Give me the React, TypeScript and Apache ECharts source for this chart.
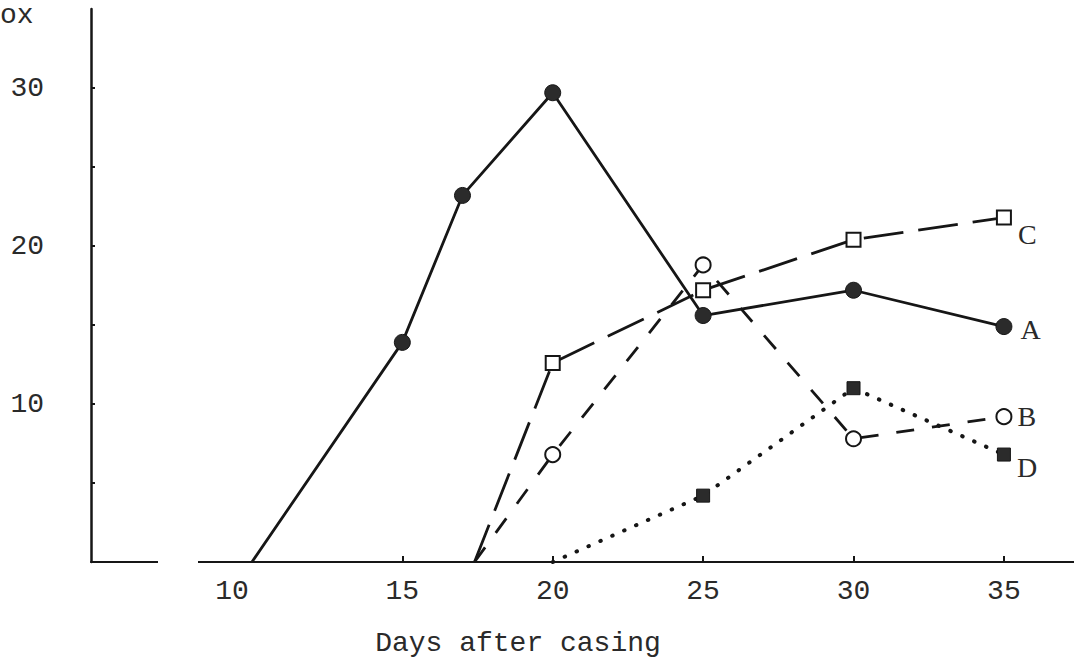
import { useEffect, useRef } from "react";
import * as echarts from "echarts";

const seriesNames = ["A", "B", "C", "D"];
const daysA = [10, 15, 17, 20, 25, 30, 35];
const valuesA = [0, 13.9, 23.2, 29.7, 15.6, 17.2, 14.9];
const daysB = [17.4, 20, 25, 30, 35];
const valuesB = [0, 6.8, 18.8, 7.8, 9.2];
const daysC = [17.4, 20, 25, 30, 35];
const valuesC = [0, 12.6, 17.2, 20.4, 21.8];
const daysD = [20, 25, 30, 35];
const valuesD = [0, 4.2, 11.0, 6.8];

const xTickLabels = [10, 15, 20, 25, 30, 35];
const xTickMarks = [15, 20, 25, 30, 35];
const yTickLabels = [10, 20, 30];
const yTickMarks = [5, 10, 15, 20, 25, 30];
const xAxisTitle = "Days after casing";
const yAxisTitle = "ox";

const INK = "#161616";
const TEXT = "#2a2a2a";
const MONO = "'Liberation Mono', 'DejaVu Sans Mono', monospace";
const SERIF = "'Liberation Serif', 'DejaVu Serif', serif";

function buildData(days: number[], values: number[], name: string, labelDistance: number, labelOffsetY: number) {
  return days.map((d, i) => {
    const item: any = { value: [d, values[i]] };
    if (i === 0 && values[i] === 0) item.symbol = "none";
    if (i === days.length - 1) {
      item.label = {
        show: true,
        position: "right",
        distance: labelDistance,
        offset: [0, labelOffsetY],
        formatter: name,
        fontFamily: SERIF,
        fontSize: 28,
        color: TEXT,
      };
    }
    return item;
  });
}

export default function App() {
  const ref = useRef<HTMLDivElement>(null);

  useEffect(() => {
    if (!ref.current) return;
    const chart = echarts.init(ref.current, undefined, { renderer: "svg" });
    const option: any = {
      animation: false,
      backgroundColor: "#ffffff",
      grid: { left: 91, top: 9, width: 983, height: 553, containLabel: false },
      xAxis: {
        type: "value",
        min: 4.65,
        max: 37.33,
        splitLine: { show: false },
        axisLine: { show: true, lineStyle: { color: INK, width: 2 } },
        axisTick: {
          show: true,
          inside: true,
          length: 6,
          customValues: xTickMarks,
          lineStyle: { color: INK, width: 2 },
        },
        axisLabel: {
          customValues: xTickLabels,
          margin: 15,
          color: TEXT,
          fontFamily: MONO,
          fontSize: 28,
          formatter: (v: number) => (v === xTickLabels[0] ? `{s|${v}}` : String(v)),
          rich: {
            s: { padding: [0, 40, 0, 0], fontFamily: MONO, fontSize: 28, color: TEXT },
          },
        },
      },
      yAxis: {
        type: "value",
        min: 0,
        max: 35,
        splitLine: { show: false },
        axisLine: { show: true, lineStyle: { color: INK, width: 2.5 } },
        axisTick: {
          show: true,
          inside: true,
          length: 4,
          customValues: yTickMarks,
          lineStyle: { color: INK, width: 2 },
        },
        axisLabel: {
          customValues: yTickLabels,
          margin: 47,
          color: TEXT,
          fontFamily: MONO,
          fontSize: 28,
        },
      },
      series: [
        {
          name: seriesNames[0],
          type: "line",
          data: buildData(daysA, valuesA, seriesNames[0], 8, 3),
          symbol: "circle",
          symbolSize: 16,
          itemStyle: { color: "#2b2b2b", borderColor: INK, borderWidth: 1 },
          lineStyle: { color: INK, width: 2.8 },
          z: 4,
        },
        {
          name: seriesNames[1],
          type: "line",
          data: buildData(daysB, valuesB, seriesNames[1], 5, 0),
          symbol: "circle",
          symbolSize: 15,
          itemStyle: { color: "#ffffff", borderColor: INK, borderWidth: 2 },
          lineStyle: { color: INK, width: 2.8, type: [18, 18] },
          z: 3,
        },
        {
          name: seriesNames[2],
          type: "line",
          data: buildData(daysC, valuesC, seriesNames[2], 6, 17),
          symbol: "rect",
          symbolSize: 14,
          itemStyle: { color: "#ffffff", borderColor: INK, borderWidth: 2 },
          lineStyle: { color: INK, width: 2.8, type: [40, 15] },
          z: 3,
        },
        {
          name: seriesNames[3],
          type: "line",
          data: buildData(daysD, valuesD, seriesNames[3], 6, 13),
          symbol: "rect",
          symbolSize: 13,
          itemStyle: { color: "#2b2b2b", borderColor: INK, borderWidth: 1 },
          lineStyle: { color: INK, width: 4, type: [0.5, 12.5], cap: "round" },
          z: 3,
        },
      ],
      graphic: [
        {
          type: "rect",
          z: 100,
          shape: { x: 158, y: 556, width: 40, height: 12 },
          style: { fill: "#ffffff" },
        },
        {
          type: "text",
          z: 100,
          x: 0,
          y: 15,
          style: {
            text: yAxisTitle,
            fontFamily: MONO,
            fontSize: 28,
            fill: TEXT,
            align: "left",
            verticalAlign: "middle",
          },
        },
        {
          type: "text",
          z: 100,
          x: 518,
          y: 643,
          style: {
            text: xAxisTitle,
            fontFamily: MONO,
            fontSize: 28,
            fill: TEXT,
            align: "center",
            verticalAlign: "middle",
          },
        },
      ],
    };
    chart.setOption(option);
    return () => chart.dispose();
  }, []);

  return (
    <div
      ref={ref}
      style={{ position: "absolute", left: 0, top: 0, width: 1074, height: 660, background: "#fff" }}
    />
  );
}
